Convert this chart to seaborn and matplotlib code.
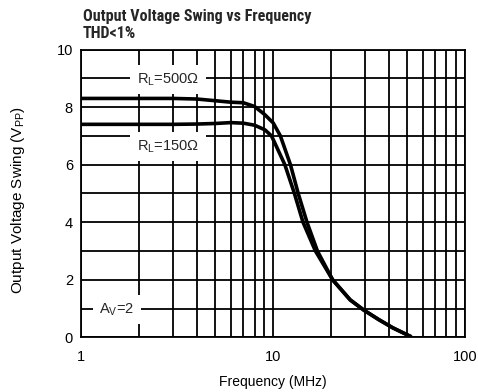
import matplotlib
matplotlib.use("Agg")
import matplotlib.pyplot as plt
from matplotlib import font_manager
from matplotlib.font_manager import FontProperties
import seaborn as sns
import pandas as pd

# Frequency response of output swing, two load resistances
freq_500 = [1, 2, 3, 4, 5, 6, 7, 8, 9, 10, 10.9, 12.3, 13.5, 15.0, 17.0, 20.4, 25.2, 29.6, 35.4, 42, 52]
vpp_500 = [8.3, 8.3, 8.3, 8.28, 8.22, 8.17, 8.15, 8.02, 7.75, 7.45, 7.0, 6.0, 5.0, 4.0, 3.0, 2.0, 1.3, 0.95, 0.62, 0.33, 0.03]

freq_150 = [1, 2, 3, 4, 5, 6, 7, 8, 9.05, 9.8, 11.5, 12.9, 14.3, 16.6, 20.4, 25.2, 29.6, 35.4, 42, 52]
vpp_150 = [7.4, 7.4, 7.4, 7.41, 7.43, 7.46, 7.44, 7.37, 7.21, 7.0, 6.0, 5.0, 4.0, 3.0, 2.0, 1.3, 0.95, 0.62, 0.33, 0.03]

series_labels = ["R$_\\mathregular{L}$=500Ω", "R$_\\mathregular{L}$=150Ω"]
gain_label = "A$_\\mathregular{V}$=2"
title_lines = ["Output Voltage Swing vs Frequency", "THD<1%"]
x_label = "Frequency (MHz)"
y_label = "Output Voltage Swing (V$_\\mathregular{PP}$)"
y_ticks = [0, 2, 4, 6, 8, 10]
x_ticks = [1, 10, 100]

df = pd.concat([
    pd.DataFrame({"freq": freq_500, "vpp": vpp_500, "load": "500"}),
    pd.DataFrame({"freq": freq_150, "vpp": vpp_150, "load": "150"}),
])

sns.set_theme(style="white")
plt.rcParams["font.family"] = ["Liberation Sans", "DejaVu Sans"]
plt.rcParams["mathtext.default"] = "regular"


def _weight(entry):
    if isinstance(entry.weight, int):
        return entry.weight
    return 700 if "bold" in str(entry.weight) else 400


def _narrow_bold(prefix):
    for f in font_manager.fontManager.ttflist:
        fn = f.fname.lower()
        narrow = ("narrow" in fn or "condensed" in fn or "Narrow" in f.name
                  or "Condensed" in f.name or "condensed" in str(f.stretch))
        if (f.name.startswith(prefix) and narrow and _weight(f) == 700
                and f.style == "normal" and "italic" not in fn):
            return FontProperties(fname=f.fname)
    return None


# heading face: a bold narrow grotesque if installed, else bold Liberation Sans
title_fp = (_narrow_bold("Liberation") or _narrow_bold("Roboto")
            or FontProperties(family="Liberation Sans", weight="bold"))

fig = plt.figure(figsize=(4.78, 3.92), dpi=100)
ax = fig.add_axes([0.170, 0.1395, 0.803, 0.7342])

sns.lineplot(data=df, x="freq", y="vpp", hue="load", palette=["black", "black"],
             linewidth=2.6, legend=False, ax=ax, sort=False, estimator=None)

ax.set_xscale("log")
ax.set_xlim(1, 100)
ax.set_ylim(0, 10)
ax.set_xticks(x_ticks)
ax.set_xticklabels([str(t) for t in x_ticks])
ax.set_xticks([v * d for d in (1, 10) for v in range(2, 10)], minor=True)
ax.set_yticks(y_ticks)
ax.set_yticklabels([str(t) for t in y_ticks])
ax.set_yticks([1, 3, 5, 7, 9], minor=True)
ax.grid(True, which="both", color="black", linewidth=1.3)
ax.tick_params(which="both", length=0, labelsize=10.5, colors="black")
ax.tick_params(axis="x", pad=9)
ax.tick_params(axis="y", pad=6)
for s in ax.spines.values():
    s.set_color("black")
    s.set_linewidth(1.3)
ax.set_axisbelow(True)

ax.set_xlabel(x_label, fontsize=10, color="black", labelpad=8)
ax.set_ylabel(y_label, fontsize=11, color="black")
ax.yaxis.set_label_coords(-0.142, 0.477)

box = dict(boxstyle="square,pad=0.45", facecolor="white", edgecolor="none")
ax.text(2.83, 8.96, series_labels[0], fontsize=10.5, ha="center", va="center", bbox=box, zorder=3)
ax.text(2.83, 6.63, series_labels[1], fontsize=10.5, ha="center", va="center", bbox=box, zorder=3)
ax.text(1.53, 0.97, gain_label, fontsize=10.5, ha="center", va="center", bbox=box, zorder=3)

t1 = fig.text(0.173, 0.947, title_lines[0], fontproperties=title_fp, fontsize=12,
              ha="left", va="baseline")
t2 = fig.text(0.173, 0.904, title_lines[1], fontproperties=title_fp, fontsize=12,
              ha="left", va="baseline")

# size the heading so its first line spans about 229 px
renderer = fig.canvas.get_renderer()
w = t1.get_window_extent(renderer).width
size = min(12.5, 12 * 229.0 / w)
t1.set_fontsize(size)
t2.set_fontsize(size)

fig.savefig("out.png", dpi=100, facecolor="white")
